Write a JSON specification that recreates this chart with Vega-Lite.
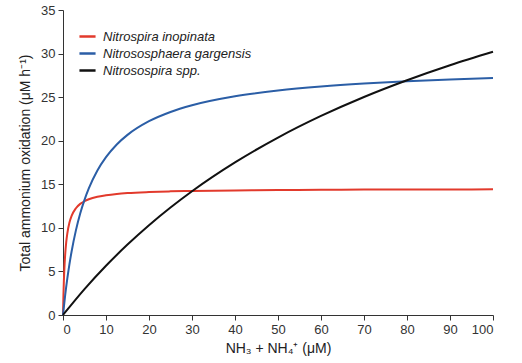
{
  "$schema": "https://vega.github.io/schema/vega-lite/v6.json",
  "autosize": "none",
  "width": 430,
  "height": 305,
  "padding": {"left": 63, "top": 10, "right": 29, "bottom": 48},
  "background": "white",
  "config": {
    "font": "Liberation Sans",
    "view": {"stroke": null},
    "axis": {
      "grid": false,
      "domainColor": "#333333",
      "tickColor": "#333333",
      "labelColor": "#333333",
      "titleColor": "#222222",
      "labelFontSize": 13,
      "titleFontSize": 14,
      "titleFontWeight": "normal",
      "tickSize": 5,
      "labelPadding": 3
    }
  },
  "datasets": {
    "curves": [
      {"s": "Nitrospira inopinata", "x": 0, "y": 0},
      {"s": "Nitrospira inopinata", "x": 0.1, "y": 2.23},
      {"s": "Nitrospira inopinata", "x": 0.2, "y": 3.87},
      {"s": "Nitrospira inopinata", "x": 0.3, "y": 5.12},
      {"s": "Nitrospira inopinata", "x": 0.5, "y": 6.9},
      {"s": "Nitrospira inopinata", "x": 0.75, "y": 8.37},
      {"s": "Nitrospira inopinata", "x": 1, "y": 9.35},
      {"s": "Nitrospira inopinata", "x": 1.5, "y": 10.61},
      {"s": "Nitrospira inopinata", "x": 2, "y": 11.37},
      {"s": "Nitrospira inopinata", "x": 3, "y": 12.25},
      {"s": "Nitrospira inopinata", "x": 4, "y": 12.75},
      {"s": "Nitrospira inopinata", "x": 5, "y": 13.06},
      {"s": "Nitrospira inopinata", "x": 6, "y": 13.28},
      {"s": "Nitrospira inopinata", "x": 8, "y": 13.57},
      {"s": "Nitrospira inopinata", "x": 10, "y": 13.74},
      {"s": "Nitrospira inopinata", "x": 12.5, "y": 13.89},
      {"s": "Nitrospira inopinata", "x": 15, "y": 13.99},
      {"s": "Nitrospira inopinata", "x": 20, "y": 14.11},
      {"s": "Nitrospira inopinata", "x": 25, "y": 14.19},
      {"s": "Nitrospira inopinata", "x": 30, "y": 14.24},
      {"s": "Nitrospira inopinata", "x": 40, "y": 14.3},
      {"s": "Nitrospira inopinata", "x": 50, "y": 14.34},
      {"s": "Nitrospira inopinata", "x": 60, "y": 14.37},
      {"s": "Nitrospira inopinata", "x": 70, "y": 14.39},
      {"s": "Nitrospira inopinata", "x": 80, "y": 14.4},
      {"s": "Nitrospira inopinata", "x": 90, "y": 14.41},
      {"s": "Nitrospira inopinata", "x": 100, "y": 14.42},
      {"s": "Nitrososphaera gargensis", "x": 0, "y": 0},
      {"s": "Nitrososphaera gargensis", "x": 0.5, "y": 2.25},
      {"s": "Nitrososphaera gargensis", "x": 1, "y": 4.17},
      {"s": "Nitrososphaera gargensis", "x": 1.5, "y": 5.84},
      {"s": "Nitrososphaera gargensis", "x": 2, "y": 7.29},
      {"s": "Nitrososphaera gargensis", "x": 3, "y": 9.71},
      {"s": "Nitrososphaera gargensis", "x": 4, "y": 11.64},
      {"s": "Nitrososphaera gargensis", "x": 5, "y": 13.21},
      {"s": "Nitrososphaera gargensis", "x": 6, "y": 14.52},
      {"s": "Nitrososphaera gargensis", "x": 8, "y": 16.58},
      {"s": "Nitrososphaera gargensis", "x": 10, "y": 18.11},
      {"s": "Nitrososphaera gargensis", "x": 12.5, "y": 19.57},
      {"s": "Nitrososphaera gargensis", "x": 15, "y": 20.67},
      {"s": "Nitrososphaera gargensis", "x": 20, "y": 22.24},
      {"s": "Nitrososphaera gargensis", "x": 25, "y": 23.3},
      {"s": "Nitrososphaera gargensis", "x": 30, "y": 24.07},
      {"s": "Nitrososphaera gargensis", "x": 40, "y": 25.1},
      {"s": "Nitrososphaera gargensis", "x": 50, "y": 25.76},
      {"s": "Nitrososphaera gargensis", "x": 60, "y": 26.22},
      {"s": "Nitrososphaera gargensis", "x": 70, "y": 26.56},
      {"s": "Nitrososphaera gargensis", "x": 80, "y": 26.82},
      {"s": "Nitrososphaera gargensis", "x": 90, "y": 27.03},
      {"s": "Nitrososphaera gargensis", "x": 100, "y": 27.2},
      {"s": "Nitrosospira spp.", "x": 0, "y": 0},
      {"s": "Nitrosospira spp.", "x": 5, "y": 2.97},
      {"s": "Nitrosospira spp.", "x": 10, "y": 5.65},
      {"s": "Nitrosospira spp.", "x": 15, "y": 8.08},
      {"s": "Nitrosospira spp.", "x": 20, "y": 10.3},
      {"s": "Nitrosospira spp.", "x": 25, "y": 12.33},
      {"s": "Nitrosospira spp.", "x": 30, "y": 14.2},
      {"s": "Nitrosospira spp.", "x": 40, "y": 17.51},
      {"s": "Nitrosospira spp.", "x": 50, "y": 20.36},
      {"s": "Nitrosospira spp.", "x": 60, "y": 22.84},
      {"s": "Nitrosospira spp.", "x": 70, "y": 25.02},
      {"s": "Nitrosospira spp.", "x": 80, "y": 26.94},
      {"s": "Nitrosospira spp.", "x": 90, "y": 28.66},
      {"s": "Nitrosospira spp.", "x": 100, "y": 30.2}
    ]
  },
  "data": {"name": "curves"},
  "mark": {"type": "line", "strokeWidth": 2, "interpolate": "monotone"},
  "encoding": {
    "x": {
      "field": "x",
      "type": "quantitative",
      "scale": {"domain": [0, 100], "nice": false, "zero": true},
      "axis": {"values": [0, 10, 20, 30, 40, 50, 60, 70, 80, 90, 100], "title": "NH₃ + NH₄⁺ (μM)", "titlePadding": 5}
    },
    "y": {
      "field": "y",
      "type": "quantitative",
      "scale": {"domain": [0, 35], "nice": false},
      "axis": {"values": [0, 5, 10, 15, 20, 25, 30, 35], "title": "Total ammonium oxidation (μM h⁻¹)", "titlePadding": 8}
    },
    "color": {
      "field": "s",
      "type": "nominal",
      "scale": {
        "domain": ["Nitrospira inopinata", "Nitrososphaera gargensis", "Nitrosospira spp."],
        "range": ["#e23a2c", "#2b5ea6", "#111111"]
      },
      "legend": {
        "title": null,
        "orient": "none",
        "legendX": 15,
        "legendY": 17,
        "symbolType": "stroke",
        "symbolSize": 260,
        "symbolStrokeWidth": 2.5,
        "labelFontSize": 13,
        "labelFontStyle": "italic",
        "labelColor": "#222222",
        "labelOffset": 6,
        "rowPadding": 0
      }
    }
  }
}
